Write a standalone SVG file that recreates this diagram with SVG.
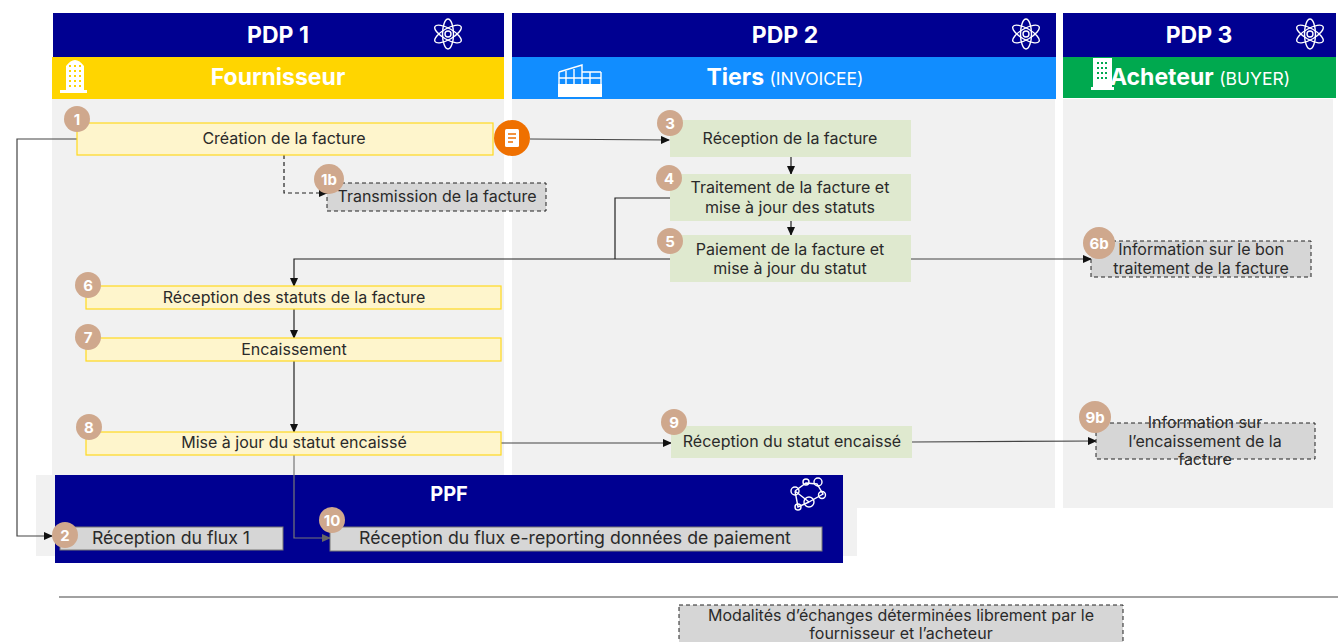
<svg xmlns="http://www.w3.org/2000/svg" width="1338" height="642" viewBox="0 0 1338 642">
<style>
text{font-family:"Inter","Noto Sans",sans-serif;fill:#2a2a2a;font-size:16px;text-anchor:middle}
.h{fill:#fff;font-weight:700;font-size:23px}
.sub{fill:#fff;font-weight:400;font-size:17.5px}
.n{fill:#fff;font-weight:700;font-size:15px}
.big{font-size:17.7px}
.navy{fill:#000091}.bg{fill:#f1f1f1}
.y{fill:#fef5cc;stroke:#ffd91f;stroke-width:1.2}
.g{fill:#dfe9cf}
.d{fill:#d6d6d6;stroke:#222;stroke-width:1;stroke-dasharray:4 3}
.s{fill:#d6d6d6;stroke:#777;stroke-width:1}
.c{fill:#cfa88d}
.l{fill:none;stroke:#222;stroke-width:1.2}
.i{fill:none;stroke:#fff;stroke-width:1.4}
.w{fill:#fff}
</style>
<defs>
<marker id="a" markerWidth="10" markerHeight="8" refX="8" refY="4" orient="auto" markerUnits="userSpaceOnUse"><path d="M0 0L9 4L0 8Z" fill="#111"/></marker>
<marker id="b" markerWidth="10" markerHeight="8" refX="8" refY="4" orient="auto" markerUnits="userSpaceOnUse"><path d="M0 0L9 4L0 8Z" fill="#666"/></marker>
<g id="atom"><ellipse rx="5.5" ry="15" class="i"/><ellipse rx="5.5" ry="15" class="i" transform="rotate(60)"/><ellipse rx="5.5" ry="15" class="i" transform="rotate(120)"/><circle r="3" class="i"/></g>
</defs>
<g id="columns">
<rect class="bg" x="52" y="99" width="452" height="376"/>
<rect class="bg" x="512" y="99" width="543" height="409"/>
<rect class="bg" x="1063" y="99" width="270" height="409"/>
<rect class="bg" x="36" y="475" width="821" height="81"/>
</g>
<g id="pdp1"><rect class="navy" x="53" y="13" width="451" height="44"/><text class="h" x="278" y="43">PDP 1</text><use href="#atom" x="448" y="34"/></g>
<g id="fournisseur"><rect fill="#ffd500" x="52" y="57" width="452" height="42"/><text class="h" x="278" y="85">Fournisseur</text>
<path class="w" d="M66 66Q75 54 84 66V90H87V93H60V90H66Z"/><path d="M69 66h12M69 71h12M69 76h12M69 81h12M69 86h12" stroke="#ffd500" stroke-width="2" stroke-dasharray="2 3"/></g>
<g id="pdp2"><rect class="navy" x="512" y="13" width="544" height="44"/><text class="h" x="785" y="43">PDP 2</text><use href="#atom" x="1026" y="34"/></g>
<g id="tiers"><rect fill="#118dff" x="512" y="57" width="544" height="42"/><text class="h" x="785" y="85">Tiers <tspan class="sub">(INVOICEE)</tspan></text>
<path class="i" d="M559 72L582 65V86M559 72V86M559 78H601M566 71V86M574 69V86M601 72H582M601 72V86M590 72V86"/><rect class="w" x="558" y="84" width="44" height="13"/></g>
<g id="pdp3"><rect class="navy" x="1063" y="13" width="273" height="44"/><text class="h" x="1199" y="43">PDP 3</text><use href="#atom" x="1310" y="34"/></g>
<g id="acheteur"><rect fill="#00a94f" x="1063" y="57" width="273" height="41"/><text class="h" x="1200" y="85">Acheteur <tspan class="sub">(BUYER)</tspan></text>
<rect class="w" x="1093" y="58" width="19" height="29"/><rect class="w" x="1091" y="87" width="23" height="3"/>
<path d="M1097 63h11M1097 68h11M1097 73h11M1097 78h11" stroke="#00a94f" stroke-width="2" stroke-dasharray="2 2"/></g>
<g id="ppf"><rect class="navy" x="55" y="475" width="788" height="88"/><text class="h" x="449" y="501" style="font-size:20px">PPF</text>
<path class="i" d="M795 491L806 483L817 484L823 494L809 502L795 491M795 491L798 507L809 502"/><circle cx="795" cy="491" r="4" class="i"/><circle cx="806" cy="482" r="3" class="i"/><circle cx="818" cy="482" r="4" class="i"/><circle cx="822" cy="495" r="3.5" class="i"/><circle cx="809" cy="502" r="5" class="i"/><circle cx="798" cy="507" r="3" class="i"/></g>
<g id="connectors">
<path class="l" style="stroke:#444" marker-end="url(#a)" d="M77 139H17V536H52"/>
<path class="l" style="stroke:#444" marker-end="url(#a)" d="M530 139L669 140"/>
<path class="l" stroke-dasharray="4 3" marker-end="url(#a)" d="M284 155V193H327"/>
<path class="l" marker-end="url(#a)" d="M791 157V174"/>
<path class="l" marker-end="url(#a)" d="M791 221V235"/>
<path class="l" d="M670 198H615V259"/>
<path class="l" marker-end="url(#a)" d="M670 259H294V286"/>
<path class="l" marker-end="url(#a)" d="M294 309V338"/>
<path class="l" marker-end="url(#a)" d="M294 361V432"/>
<path class="l" style="stroke:#444" marker-end="url(#a)" d="M911 259L1091 259"/>
<path class="l" style="stroke:#444" marker-end="url(#a)" d="M501 443L671 443"/>
<path class="l" style="stroke:#444" marker-end="url(#a)" d="M912 442L1096 441"/>
<path class="l" style="stroke:#777" marker-end="url(#b)" d="M294 455V538H330"/>
</g>
<g id="n1"><rect class="y" x="77" y="123" width="416" height="32"/><text x="284" y="144">Création de la facture</text><circle class="c" cx="77" cy="119" r="13"/><text class="n" x="77" y="125">1</text></g>
<g id="doc"><circle fill="#ef7000" cx="512" cy="138" r="18"/><rect class="w" x="505" y="129" width="14" height="18" rx="1.5"/><path d="M508 134h8M508 138h8M508 142h5" stroke="#ef7000" stroke-width="1.3"/></g>
<g id="n1b"><rect class="d" x="327" y="183" width="219" height="28"/><text x="437" y="202">Transmission de la facture</text><circle class="c" cx="329" cy="179" r="15"/><text class="n" x="329" y="185">1b</text></g>
<g id="n3"><rect class="g" x="670" y="120" width="241" height="37"/><text x="790" y="144">Réception de la facture</text><circle class="c" cx="670" cy="123" r="13"/><text class="n" x="670" y="129">3</text></g>
<g id="n4"><rect class="g" x="670" y="174" width="241" height="47"/><text x="790" y="193">Traitement de la facture et</text><text x="790" y="213">mise à jour des statuts</text><circle class="c" cx="669" cy="178" r="13"/><text class="n" x="669" y="184">4</text></g>
<g id="n5"><rect class="g" x="670" y="235" width="241" height="47"/><text x="790" y="255">Paiement de la facture et</text><text x="790" y="274">mise à jour du statut</text><circle class="c" cx="670" cy="241" r="13"/><text class="n" x="670" y="247">5</text></g>
<g id="n6b"><rect class="d" x="1091" y="241" width="220" height="36"/><text x="1201" y="255">Information sur le bon</text><text x="1201" y="274">traitement de la facture</text><circle class="c" cx="1099" cy="243" r="16"/><text class="n" x="1099" y="249">6b</text></g>
<g id="n6"><rect class="y" x="86" y="286" width="415" height="23"/><text x="294" y="303">Réception des statuts de la facture</text><circle class="c" cx="88" cy="285" r="13"/><text class="n" x="88" y="291">6</text></g>
<g id="n7"><rect class="y" x="86" y="338" width="415" height="23"/><text x="294" y="355">Encaissement</text><circle class="c" cx="88" cy="337" r="13"/><text class="n" x="88" y="343">7</text></g>
<g id="n8"><rect class="y" x="86" y="432" width="415" height="23"/><text x="294" y="448">Mise à jour du statut encaissé</text><circle class="c" cx="89" cy="427" r="13"/><text class="n" x="89" y="433">8</text></g>
<g id="n9"><rect class="g" x="671" y="426" width="241" height="32"/><text x="792" y="447">Réception du statut encaissé</text><circle class="c" cx="674" cy="422" r="13"/><text class="n" x="674" y="428">9</text></g>
<g id="n9b"><rect class="d" x="1096" y="423" width="219" height="36"/><text x="1205" y="428">Information sur</text><text x="1205" y="447">l’encaissement de la</text><text x="1205" y="465">facture</text><circle class="c" cx="1095" cy="417" r="16"/><text class="n" x="1095" y="423">9b</text></g>
<g id="n2"><rect class="s" x="60" y="527" width="223" height="23"/><text class="big" x="171" y="544">Réception du flux 1</text><circle class="c" cx="65" cy="535" r="13"/><text class="n" x="65" y="541">2</text></g>
<g id="n10"><rect class="s" x="330" y="527" width="492" height="24"/><text class="big" x="575" y="544">Réception du flux e-reporting données de paiement</text><circle class="c" cx="332" cy="520" r="13"/><text class="n" x="332" y="526">10</text></g>
<g id="legend"><path d="M59 597H1338" stroke="#444" stroke-width="1.2"/><rect class="d" x="679" y="605" width="444" height="42"/><text x="901" y="621">Modalités d’échanges déterminées librement par le</text><text x="901" y="639">fournisseur et l’acheteur</text></g>
</svg>
